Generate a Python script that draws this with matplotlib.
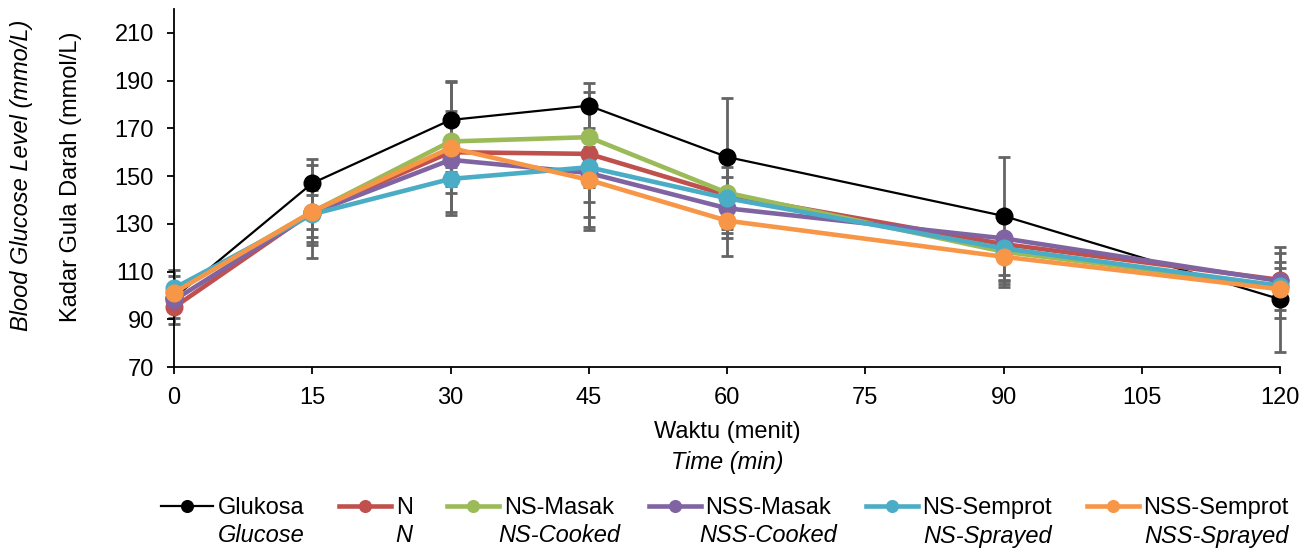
import matplotlib
matplotlib.use("Agg")
import matplotlib.pyplot as plt

# %% data
times = [0, 15, 30, 45, 60, 90, 120]

glukosa = [99, 147, 173.5, 179.5, 158, 133.3, 98.4]
n = [95, 135, 160, 159.3, 142, 121.5, 106.5]
ns_masak = [101.5, 135, 164.5, 166.3, 143, 118.3, 104]
nss_masak = [98, 134.5, 156.8, 151.3, 136.5, 123.9, 106]
ns_semprot = [103, 134, 148.8, 153.7, 140.7, 119.7, 104]
nss_semprot = [101.1, 135.1, 161.8, 148.4, 131.3, 116.2, 102.6]

# error bars (minus / plus)
glukosa_lo = [2, 10, 16.5, 9.5, 24.6, 24.7, 22]
glukosa_hi = [2, 10, 16.5, 9.5, 24.6, 24.7, 22]
n_lo = [4.5, 7, 25, 26.4, 16, 16.7, 12.5]
n_hi = [4.5, 7, 5, 3, 2, 2, 11.3]
ns_masak_lo = [3, 10.5, 21.5, 27, 13.5, 12.3, 13.5]
ns_masak_hi = [3, 9, 25, 19, 10.8, 2, 7.5]
nss_masak_lo = [10, 12.1, 3, 22.6, 12.5, 1.5, 2]
nss_masak_hi = [10, 2, 3, 3, 2, 1.5, 8]
ns_semprot_lo = [7.5, 12.9, 3, 26.3, 12.7, 13.1, 2]
ns_semprot_hi = [7.5, 2, 3, 3, 9, 5.1, 2]
nss_semprot_lo = [2, 19.5, 28, 3, 14.8, 12.7, 2]
nss_semprot_hi = [2, 19.5, 15.5, 3, 2, 7.4, 2]

labels = ["Glukosa", "N", "NS-Masak", "NSS-Masak", "NS-Semprot", "NSS-Semprot"]
labels_en = ["Glucose", "N", "NS-Cooked", "NSS-Cooked", "NS-Sprayed", "NSS-Sprayed"]
xticks = [0, 15, 30, 45, 60, 75, 90, 105, 120]
yticks = [70, 90, 110, 130, 150, 170, 190, 210]

series = [glukosa, n, ns_masak, nss_masak, ns_semprot, nss_semprot]
errs_lo = [glukosa_lo, n_lo, ns_masak_lo, nss_masak_lo, ns_semprot_lo, nss_semprot_lo]
errs_hi = [glukosa_hi, n_hi, ns_masak_hi, nss_masak_hi, ns_semprot_hi, nss_semprot_hi]
colors = ["#000000", "#C0504D", "#9BBB59", "#8064A2", "#4BACC6", "#F79646"]
widths = [1.6, 3.3, 3.3, 3.3, 3.3, 3.3]

# %% plot
plt.rcParams["font.family"] = ["Liberation Sans", "DejaVu Sans"]
plt.rcParams["font.size"] = 17

W, H = 1311, 549
fig = plt.figure(figsize=(W / 100, H / 100), dpi=100)
ax = fig.add_axes([174 / W, 1 - 367 / H, (1280 - 174) / W, (367 - 9) / H])

for vals, lo, hi in zip(series, errs_lo, errs_hi):
    eb = ax.errorbar(times, vals, yerr=[lo, hi], fmt="none", ecolor="#646464",
                     elinewidth=2, capsize=4.5, capthick=2, zorder=1)
    for art in eb.lines[1] + eb.lines[2]:
        art.set_clip_on(False)

for i, (vals, c, lw, lab) in enumerate(zip(series, colors, widths, labels)):
    ax.plot(times, vals, color=c, lw=lw, marker="o", ms=12, label=lab,
            zorder=3 + i, clip_on=False)

ax.set_xlim(0, 120)
ax.set_ylim(70, 220)
ax.set_xticks(xticks)
ax.set_yticks(yticks)
for s in ["top", "right"]:
    ax.spines[s].set_visible(False)
for s in ["left", "bottom"]:
    ax.spines[s].set_linewidth(1.3)
ax.tick_params(direction="out", length=5, width=1.3, pad=9.5)

fig.text(71 / W, 1 - 177 / H, "Kadar Gula Darah (mmol/L)", rotation=90,
         ha="center", va="center")
fig.text(22 / W, 1 - 175 / H, "Blood Glucose Level (mmo/L)", rotation=90,
         ha="center", va="center", style="italic")
fig.text(727 / W, 1 - 432 / H, "Waktu (menit)", ha="center", va="center")
fig.text(727 / W, 1 - 462 / H, "Time (min)", ha="center", va="center",
         style="italic")

leg = fig.legend(loc="center", bbox_to_anchor=(725 / W, 1 - 508 / H), ncol=6,
                 frameon=False, handlelength=2.2, handletextpad=0.2,
                 columnspacing=1.47, markerscale=0.7, borderpad=0)

fig.canvas.draw()
inv = fig.transFigure.inverted()
for t, lab in zip(leg.get_texts(), labels_en):
    bb = t.get_window_extent()
    cx = inv.transform(((bb.x0 + bb.x1) / 2, 0))[0]
    fig.text(cx, 1 - 536 / H, lab, ha="center", va="center", style="italic")

fig.savefig("out.png", dpi=100)
